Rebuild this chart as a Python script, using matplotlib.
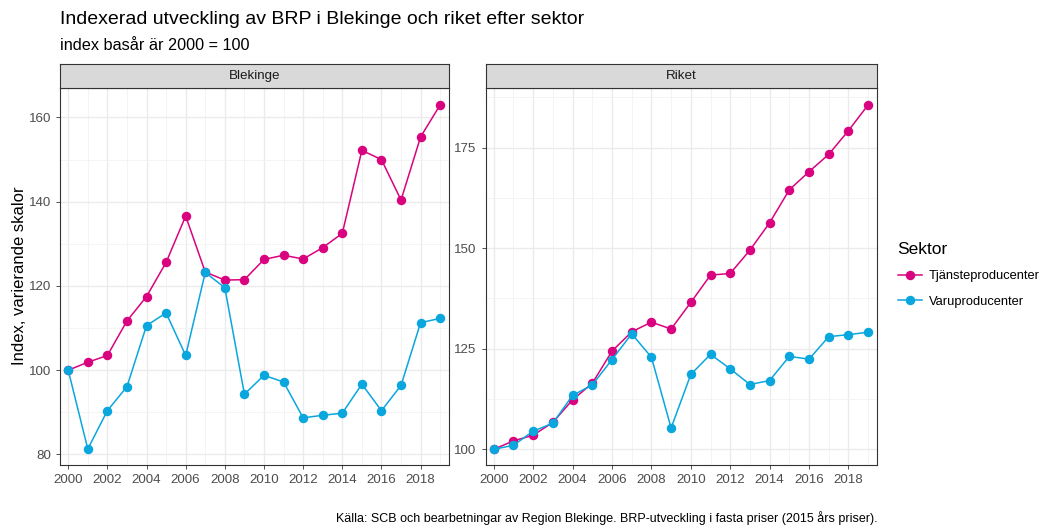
import numpy as np
import matplotlib
matplotlib.use('Agg')
import matplotlib.pyplot as plt
from matplotlib.lines import Line2D

plt.rcParams['font.family'] = ['Liberation Sans', 'DejaVu Sans']

years = list(range(2000, 2020))

# Blekinge
blek_tjanst = [100, 101.9, 103.5, 111.7, 117.5, 125.6, 136.6, 123.3, 121.4, 121.5,
               126.3, 127.3, 126.4, 129.1, 132.5, 152.2, 150.0, 140.4, 155.4, 163.0]
blek_varu = [100, 81.3, 90.4, 96.1, 110.6, 113.6, 103.5, 123.2, 119.6, 94.3,
             98.8, 97.2, 88.7, 89.3, 89.8, 96.7, 90.4, 96.4, 111.3, 112.3]

# Riket
riket_tjanst = [100, 102.1, 103.5, 106.7, 112.3, 116.4, 124.4, 129.2, 131.6, 129.9,
                136.5, 143.3, 143.7, 149.5, 156.3, 164.5, 169.0, 173.3, 179.2, 185.6]
riket_varu = [100, 101.0, 104.5, 106.5, 113.4, 116.0, 122.3, 128.7, 122.9, 105.3,
              118.6, 123.6, 120.0, 116.1, 117.1, 123.1, 122.4, 128.0, 128.5, 129.1]

sektorer = ['Tjänsteproducenter', 'Varuproducenter']
farger = ['#D9037F', '#0AA6DE']

W, H = 1046, 526
fig = plt.figure(figsize=(W / 100, H / 100), dpi=100)

def px(x0, y0, x1, y1):
    return [x0 / W, 1 - y1 / H, (x1 - x0) / W, (y1 - y0) / H]

panels = [
    ('Blekinge', px(60, 88, 449, 465), blek_tjanst, blek_varu, (77.5, 167.0), [80, 100, 120, 140, 160]),
    ('Riket', px(485.5, 88, 877, 465), riket_tjanst, riket_varu, (96.1, 189.8), [100, 125, 150, 175]),
]

for name, pos, tj, va, ylim, yt in panels:
    ax = fig.add_axes(pos)
    ax.set_facecolor('white')
    for vals, col in zip([tj, va], farger):
        ax.plot(years, vals, color=col, lw=1.1, marker='o', ms=5.8, mec=col, zorder=3)
    ax.set_xlim(1999.58, 2019.45)
    ax.set_ylim(*ylim)
    ax.set_xticks(range(2000, 2020, 2))
    ax.set_xticks(range(2001, 2020, 2), minor=True)
    ax.set_yticks(yt)
    step = yt[1] - yt[0]
    ax.set_yticks([v + step / 2 for v in [yt[0] - step] + yt if ylim[0] < v + step / 2 < ylim[1]], minor=True)
    ax.grid(which='major', color='#EBEBEB', lw=1.0)
    ax.grid(which='minor', color='#F2F2F2', lw=0.6)
    ax.set_axisbelow(True)
    ax.tick_params(which='major', length=3, color='#333333', labelsize=9.6, labelcolor='#4D4D4D', width=0.6)
    ax.tick_params(which='minor', length=0)
    for s in ax.spines.values():
        s.set_color('#333333')
        s.set_linewidth(0.8)
    # facet strip
    sax = fig.add_axes([pos[0], pos[1] + pos[3], pos[2], 24 / H])
    sax.set_xticks([])
    sax.set_yticks([])
    sax.set_facecolor('#D9D9D9')
    for s in sax.spines.values():
        s.set_color('#333333')
        s.set_linewidth(0.8)
    sax.text(0.5, 0.5, name, ha='center', va='center', fontsize=9.6, color='#1A1A1A', transform=sax.transAxes)

fig.text(60 / W, 1 - 20 / H, 'Indexerad utveckling av BRP i Blekinge och riket efter sektor',
         fontsize=14, ha='left', va='center')
fig.text(60 / W, 1 - 46 / H, 'index basår är 2000 = 100', fontsize=11.7, ha='left', va='center')
fig.text(19 / W, 1 - 276 / H, 'Index, varierande skalor', fontsize=12, rotation=90, ha='center', va='center')
fig.text(877 / W, 1 - 518 / H,
         'Källa: SCB och bearbetningar av Region Blekinge. BRP-utveckling i fasta priser (2015 års priser).',
         fontsize=9, ha='right', va='center')

handles = [Line2D([], [], color=c, lw=1.1, marker='o', ms=5.8) for c in farger]
leg = fig.legend(handles, sektorer, title='Sektor', loc='upper left',
                 bbox_to_anchor=(886 / W, 1 - 230 / H), frameon=False, fontsize=9.3,
                 title_fontsize=12.5, handlelength=1.9, handletextpad=0.5,
                 labelspacing=1.05, alignment='left')

fig.savefig('out.png', dpi=100)
